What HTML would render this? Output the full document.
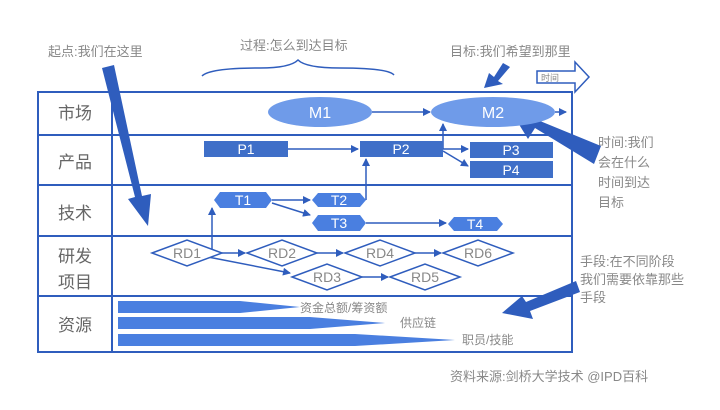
<!DOCTYPE html>
<html><head><meta charset="utf-8"><style>
body{margin:0;background:#fff;}
svg text{font-family:"Liberation Sans","Noto Sans CJK SC",sans-serif;}
</style></head><body>
<svg width="720" height="405" viewBox="0 0 720 405" xmlns="http://www.w3.org/2000/svg">
<defs>
<marker id="a" markerWidth="8" markerHeight="8" refX="7" refY="4" orient="auto" markerUnits="userSpaceOnUse"><path d="M0,0 L8,4 L0,8 Z" fill="#2f5dbd"/></marker>
</defs>
<rect width="720" height="405" fill="#fff"/>
<g stroke="#2f5dbd" stroke-width="2" fill="none">
<rect x="38" y="92" width="534" height="260"/>
<line x1="112" y1="92" x2="112" y2="352"/>
<line x1="38" y1="135" x2="572" y2="135"/>
<line x1="38" y1="185" x2="572" y2="185"/>
<line x1="38" y1="236" x2="572" y2="236"/>
<line x1="38" y1="296" x2="572" y2="296"/>
</g>
<g font-size="17" fill="#666" text-anchor="middle">
<text x="75" y="119">市场</text>
<text x="75" y="168">产品</text>
<text x="75" y="219">技术</text>
<text x="75" y="262">研发</text>
<text x="75" y="288">项目</text>
<text x="75" y="331">资源</text>
</g>
<g font-size="13" fill="#888">
<text x="48" y="56">起点:我们在这里</text>
<text x="240" y="50">过程:怎么到达目标</text>
<text x="450" y="56">目标:我们希望到那里</text>
<text x="598" y="147">时间:我们</text>
<text x="598" y="167">会在什么</text>
<text x="598" y="187">时间到达</text>
<text x="598" y="207">目标</text>
<text x="580" y="266">手段:在不同阶段</text>
<text x="580" y="284">我们需要依靠那些</text>
<text x="580" y="302">手段</text>
<text x="450" y="381">资料来源:剑桥大学技术 @IPD百科</text>
</g>
<path d="M202,76 Q210,68 260,68 Q290,68 298,60 Q306,68 340,68 Q388,68 394,75" stroke="#2f5dbd" stroke-width="1.5" fill="none"/>
<path d="M537,71 L575,71 L575,62 L589,77 L575,92 L575,83 L537,83 Z" fill="#fff" stroke="#2f5dbd" stroke-width="1.5"/>
<text x="541" y="81" font-size="9" fill="#888">时间</text>
<path d="M102,68 L114,65 L142,196 L151,194 L148,226 L128,199 L135,197 Z" fill="#2f5dbd"/>
<path d="M503,63 L510,67 L498,81 L503,84 L484,88 L489,73 L494,77 Z" fill="#2f5dbd"/>
<path d="M601,146 L594,164 L535,128 L528,139 L512,113 L542,116 L540,121 Z" fill="#2f5dbd"/>
<path d="M576,281 L580,292 L530,311 L533,319 L502,313 L522,296 L526,302 Z" fill="#2f5dbd"/>
<ellipse cx="320" cy="112" rx="52" ry="15" fill="#6f9be9"/>
<ellipse cx="493" cy="112" rx="62" ry="15" fill="#6f9be9"/>
<g font-size="16" fill="#fff" text-anchor="middle">
<text x="320" y="118">M1</text><text x="493" y="118">M2</text>
</g>
<g stroke="#2f5dbd" stroke-width="1.5" fill="none" marker-end="url(#a)">
<line x1="372" y1="112" x2="430" y2="112"/>
<line x1="555" y1="112" x2="566" y2="112"/>
<line x1="288" y1="149" x2="358" y2="149"/>
<line x1="443" y1="149" x2="443" y2="124"/>
<line x1="443" y1="149" x2="468" y2="149"/>
<line x1="443" y1="151" x2="468" y2="166"/>
<line x1="366" y1="200" x2="366" y2="159"/>
<line x1="272" y1="200" x2="310" y2="200"/>
<line x1="272" y1="203" x2="310" y2="215"/>
<line x1="366" y1="223" x2="446" y2="223"/>
<line x1="212" y1="253" x2="212" y2="208"/>
<line x1="222" y1="253" x2="245" y2="253"/>
<line x1="317" y1="253" x2="343" y2="253"/>
<line x1="415" y1="253" x2="441" y2="253"/>
<line x1="208" y1="257" x2="290" y2="273"/>
<line x1="362" y1="277" x2="388" y2="277"/>
</g>
<g fill="#3f6fc8">
<rect x="204" y="141" width="84" height="16"/>
<rect x="360" y="141" width="83" height="16"/>
<rect x="470" y="142" width="83" height="16"/>
<rect x="470" y="161" width="83" height="17"/>
</g>
<g font-size="14" fill="#fff" text-anchor="middle">
<text x="246" y="154">P1</text><text x="401" y="154">P2</text>
<text x="511" y="155">P3</text><text x="511" y="175">P4</text>
</g>
<g fill="#4a7fe0">
<path d="M214,200 L220,192 L266,192 L272,200 L266,208 L220,208 Z"/>
<path d="M312,200 L318,193 L360,193 L366,200 L360,207 L318,207 Z"/>
<path d="M312,223 L318,215 L360,215 L366,223 L360,231 L318,231 Z"/>
<path d="M448,224 L454,217 L497,217 L503,224 L497,231 L454,231 Z"/>
</g>
<g font-size="14" fill="#fff" text-anchor="middle">
<text x="243" y="205">T1</text><text x="339" y="205">T2</text>
<text x="339" y="228">T3</text><text x="475" y="229">T4</text>
</g>
<g fill="#fff" stroke="#2f5dbd" stroke-width="1.5">
<path d="M152,253 L187,240 L222,253 L187,266 Z"/>
<path d="M247,253 L282,240 L317,253 L282,266 Z"/>
<path d="M345,253 L380,240 L415,253 L380,266 Z"/>
<path d="M443,253 L478,240 L513,253 L478,266 Z"/>
<path d="M292,277 L327,264 L362,277 L327,290 Z"/>
<path d="M390,277 L425,264 L460,277 L425,290 Z"/>
</g>
<g font-size="14" fill="#888" text-anchor="middle">
<text x="187" y="258">RD1</text><text x="282" y="258">RD2</text>
<text x="380" y="258">RD4</text><text x="478" y="258">RD6</text>
<text x="327" y="282">RD3</text><text x="425" y="282">RD5</text>
</g>
<g fill="#4a7fe0">
<path d="M118,301 L240,301 L300,307 L240,313 L118,313 Z"/>
<path d="M118,317 L310,317 L385,323 L310,329 L118,329 Z"/>
<path d="M118,334 L355,334 L455,340 L355,346 L118,346 Z"/>
</g>
<g font-size="12" fill="#888">
<text x="300" y="312">资金总额/筹资额</text>
<text x="400" y="327">供应链</text>
<text x="462" y="344">职员/技能</text>
</g>
</svg>
</body></html>
